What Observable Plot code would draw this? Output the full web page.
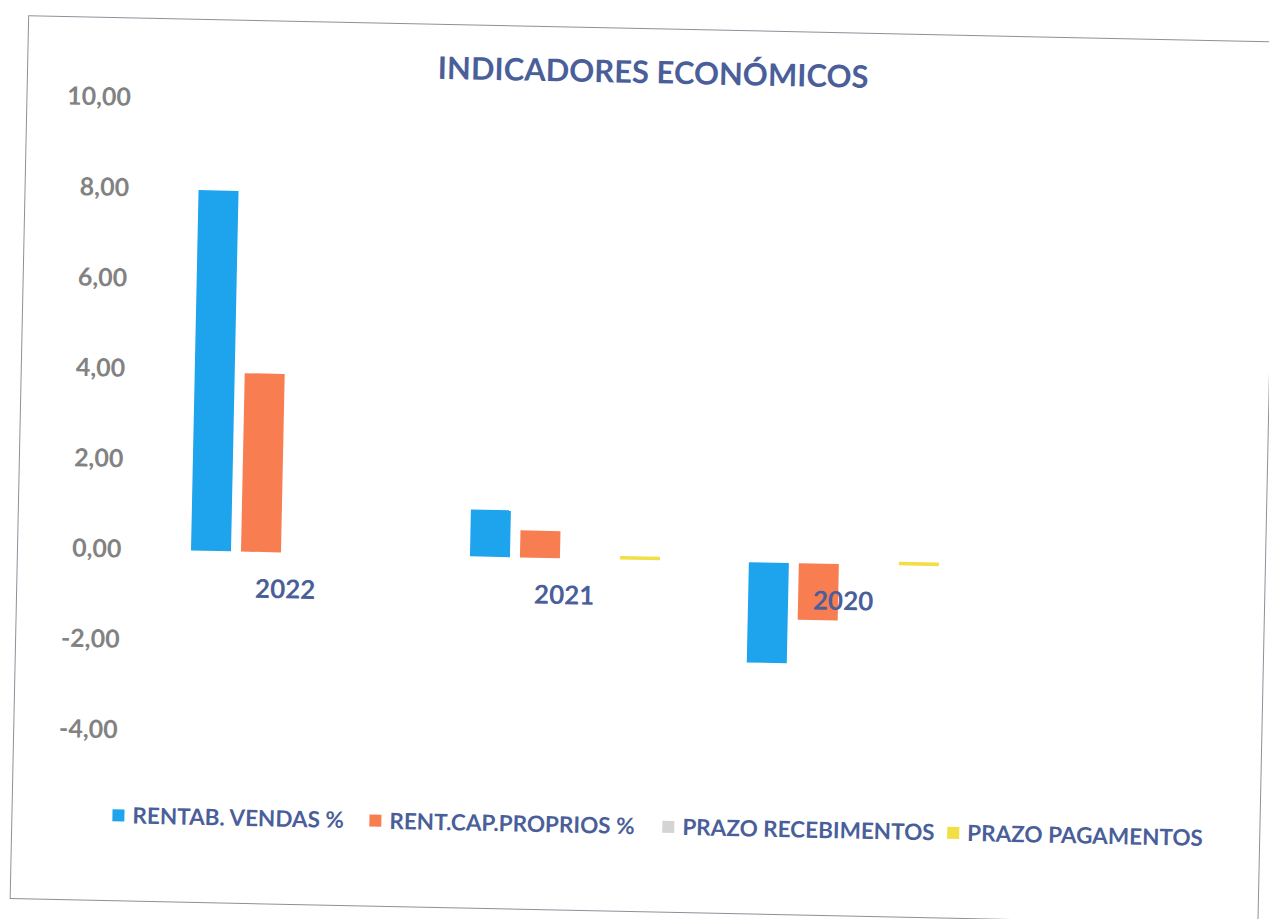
<!DOCTYPE html>
<html><head><meta charset="utf-8">
<script src="https://cdn.jsdelivr.net/npm/d3@7"></script>
<script src="https://cdn.jsdelivr.net/npm/@observablehq/plot@0.6"></script>
<style>
body{margin:0;background:#fff;overflow:hidden}
#page{position:relative;width:1269px;height:919px;transform:rotate(1.2deg);transform-origin:634.5px 459.5px;font-family:Lato,"Open Sans",sans-serif}
#frame{position:absolute;left:19px;top:28px;width:1249px;height:884px;border:1.5px solid #8f8f9c;box-sizing:border-box}
#title{position:absolute;left:0;width:1290px;top:53px;line-height:36px;text-align:center;font-weight:700;font-size:31px;color:#4a5f9a}
#chart{position:absolute;left:0;top:0}
.lg{position:absolute;top:812px;display:flex;align-items:center;font-weight:700;font-size:22.5px;color:#4a5f9a;white-space:nowrap}
.lg span.sw{display:inline-block;width:12px;height:12px;margin-right:8px}
</style></head>
<body>
<div id="page">
  <div id="frame"></div>
  <div id="chart"></div>
  <div id="title">INDICADORES ECONÓMICOS</div>
  <div id="legend"></div>
</div>
<script>
const years = ["2022", "2021", "2020"];
const series = ["RENTAB. VENDAS %", "RENT.CAP.PROPRIOS %", "PRAZO RECEBIMENTOS", "PRAZO PAGAMENTOS"];
const colors = ["#1da4ec", "#f87d50", "#d4d4d4", "#f1df45"];
const rentabVendas = [7.98, 1.04, -2.22];
const rentCapProprios = [3.95, 0.6, -1.25];
const prazoRecebimentos = [0, 0, 0];
const prazoPagamentos = [0, 0.08, 0.08];
const yTicks = [-4, -2, 0, 2, 4, 6, 8, 10];

const valuesBySeries = [rentabVendas, rentCapProprios, prazoRecebimentos, prazoPagamentos];
const data = [];
years.forEach((yr, i) => series.forEach((s, j) => data.push({year: yr, series: s, value: valuesBySeries[j][i]})));

const chart = Plot.plot({
  width: 1269,
  height: 919,
  marginLeft: 147,
  marginRight: 283,
  marginTop: 108,
  marginBottom: 178.5,
  style: {fontFamily: "Lato, 'Open Sans', sans-serif", fontSize: "25px", fontWeight: 700, color: "#828282", background: "transparent", overflow: "visible"},
  fx: {domain: years, padding: 0, axis: null},
  x: {domain: series, paddingInner: 0.2, paddingOuter: 0.84, axis: null},
  y: {domain: [-4, 10], ticks: yTicks, tickFormat: d => d.toFixed(2).replace(".", ","), tickSize: 0, tickPadding: 25, label: null},
  color: {domain: series, range: colors},
  marks: [
    Plot.barY(data, {fx: "year", x: "series", y: "value", fill: "series"}),
    Plot.text(years, {fx: d => d, y: () => 0, text: d => d, dy: 37, fontSize: 26, fontWeight: 700, fill: "#4a5f9a"})
  ]
});
document.getElementById("chart").appendChild(chart);

const legendLefts = [120, 377, 670, 955];
const legend = document.getElementById("legend");
series.forEach((s, i) => {
  const item = document.createElement("div");
  item.className = "lg";
  item.style.left = legendLefts[i] + "px";
  const sw = document.createElement("span");
  sw.className = "sw";
  sw.style.background = colors[i];
  item.appendChild(sw);
  item.appendChild(document.createTextNode(s));
  legend.appendChild(item);
});
</script>
</body></html>
